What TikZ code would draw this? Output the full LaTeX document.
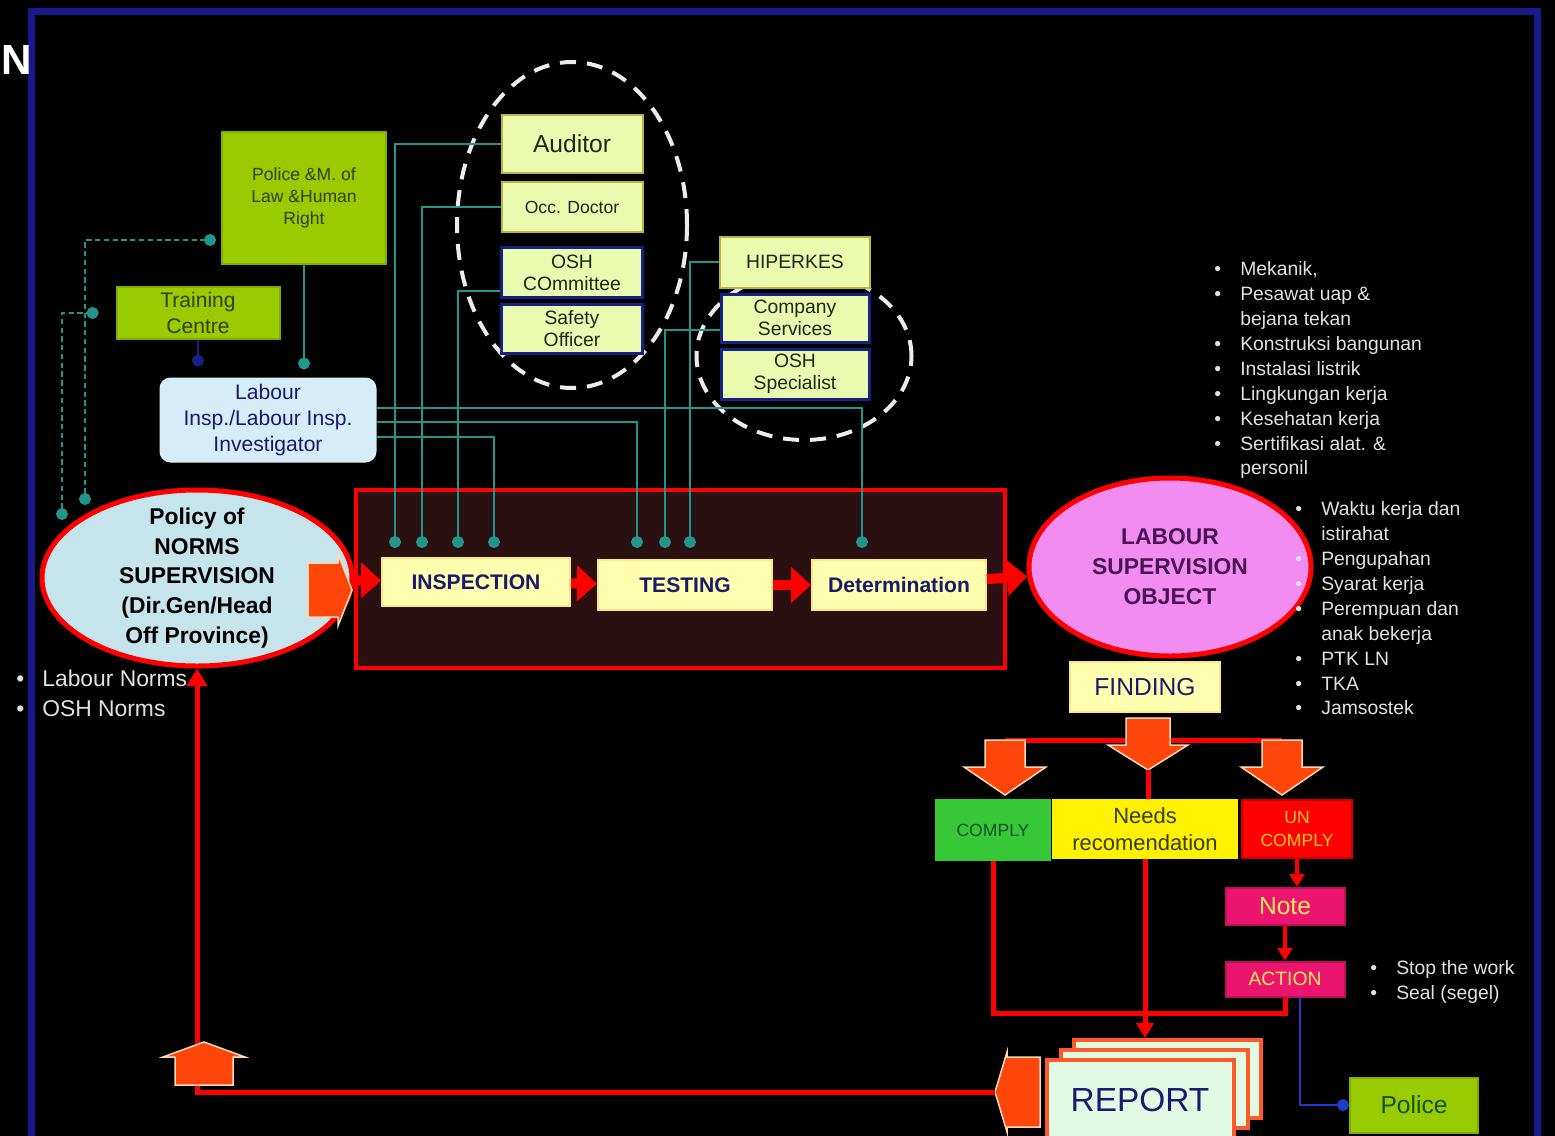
\documentclass[tikz,border=0pt]{standalone}
\usepackage{fontspec}
\setmainfont{Liberation Sans}
\usetikzlibrary{arrows,arrows.meta,positioning,shapes,calc}

\definecolor{framebl}{RGB}{25,25,140}
\definecolor{limefill}{RGB}{153,204,0}
\definecolor{olivetxt}{RGB}{55,60,10}
\definecolor{palelime}{RGB}{234,250,175}
\definecolor{navybord}{RGB}{20,35,130}
\definecolor{darktxt}{RGB}{30,40,25}
\definecolor{paleblue}{RGB}{214,236,246}
\definecolor{navytxt}{RGB}{25,25,110}
\definecolor{paleyel}{RGB}{255,255,175}
\definecolor{innerbrown}{RGB}{42,16,16}
\definecolor{policyblue}{RGB}{198,228,236}
\definecolor{pinkobj}{RGB}{242,140,240}
\definecolor{purpletxt}{RGB}{75,20,85}
\definecolor{tealc}{RGB}{35,150,140}
\definecolor{arroworange}{RGB}{255,70,10}
\definecolor{greencomply}{RGB}{55,200,55}
\definecolor{greentxt}{RGB}{20,80,40}
\definecolor{ambertxt}{RGB}{255,200,30}
\definecolor{notemag}{RGB}{235,20,110}
\definecolor{yeltxt}{RGB}{255,235,90}
\definecolor{reportfill}{RGB}{225,250,228}
\definecolor{reportbord}{RGB}{255,90,40}
\definecolor{blueln}{RGB}{30,60,200}
\definecolor{listgray}{RGB}{225,225,225}

\newcommand{\blt}{\makebox[5.2mm][l]{\textbullet}}
\newcommand{\cont}{\hspace*{5.2mm}}

\begin{document}
\begin{tikzpicture}[x=0.2mm,y=-0.2mm,>=stealth',
		box/.style={rectangle,draw,inner sep=1pt,align=center,line width=0.4mm},
		limebox/.style={box,fill=limefill,draw=limefill!85!black,text=olivetxt},
		palebox/.style={box,fill=palelime,draw=yellow!70!black,text=darktxt,minimum width=28.2mm},
		navybox/.style={palebox,draw=navybord,line width=0.6mm},
		procbox/.style={box,fill=paleyel,draw=paleyel!80!orange,text=navytxt,font=\bfseries\fontsize{12}{14}\selectfont,minimum height=10mm},
		endbox/.style={box,minimum height=11.6mm},
		redbox/.style={box,fill=notemag,draw=notemag!80!black,text=yeltxt,minimum width=23.8mm},
		repbox/.style={box,fill=reportfill,draw=reportbord,line width=0.8mm,minimum width=37.4mm,minimum height=15.6mm},
		link/.style={draw=tealc,line width=0.4mm,-*},
		dlink/.style={link,densely dashed,*-*},
		fatlink/.style={draw=red,line width=2mm,-{Triangle[width=7mm,length=4mm]}},
		redline/.style={draw=red,line width=1mm},
		thinred/.style={draw=red,line width=0.7mm,-{Triangle[width=3mm,length=2.5mm]}},
		groupring/.style={draw=white!85!gray,line width=0.8mm,dash pattern=on 3.2mm off 2.2mm},
		listtext/.style={text=listgray,align=left,anchor=north west,inner sep=0pt,font=\fontsize{11}{14.2}\selectfont},
		arrlen/.initial=45, arrhead/.initial=15, arrbody/.initial=22, arrwing/.initial=40,
		blockarrow/.pic={
			\pgfmathsetmacro{\arrL}{\pgfkeysvalueof{/tikz/arrlen}}
			\pgfmathsetmacro{\arrN}{\arrL-\pgfkeysvalueof{/tikz/arrhead}}
			\pgfmathsetmacro{\arrB}{\pgfkeysvalueof{/tikz/arrbody}}
			\pgfmathsetmacro{\arrW}{\pgfkeysvalueof{/tikz/arrwing}}
			\filldraw[fill=arroworange,draw=white!70!orange,line width=0.3mm]
				(0,-\arrB) -- (\arrN,-\arrB) -- (\arrN,-\arrW) -- (\arrL,0) -- (\arrN,\arrW) -- (\arrN,\arrB) -- (0,\arrB) -- cycle;
			\coordinate (-tip) at (\arrL,0);
			\coordinate (-tail) at (0,0);
		}]

		\useasboundingbox (0,0) rectangle (1555,1136);
		\fill[black] (0,0) rectangle (1555,1136);
		\draw[framebl,line width=1.4mm] (31,1136) -- (31,12) -- (1537,12) -- (1537,1136);
		\node[text=white,font=\bfseries\fontsize{24}{24}\selectfont,anchor=west,inner sep=0pt] (ncut) at (1,60) {N};

		\draw[groupring] (572,225) ellipse [x radius=23mm,y radius=32.6mm];
		\draw[groupring] (804,356) ellipse [x radius=21.5mm,y radius=16.8mm];

		\node[limebox,minimum width=32.8mm,minimum height=26.4mm,font=\fontsize{10}{12.5}\selectfont] (police) at (304,198) {Police \&M. of\\Law \&Human\\Right};
		\node[limebox,minimum width=32.6mm,minimum height=10.4mm,font=\fontsize{12}{14.5}\selectfont] (training) at (198,313) {Training\\Centre};
		\node[box,rounded corners=2mm,fill=paleblue,draw=paleblue,text=navytxt,minimum width=43mm,minimum height=16.6mm,font=\fontsize{12}{15}\selectfont] (labour) at (268,420) {Labour\\Insp./Labour Insp.\\Investigator};

		\node[palebox,minimum height=11.6mm,font=\fontsize{14}{16}\selectfont] (auditor) at (572,144) {Auditor};
		\node[palebox,minimum height=10mm,below=1.4mm of auditor,font=\fontsize{10}{12}\selectfont] (occdoc) {Occ. Doctor};
		\node[navybox,minimum height=10mm,below=2.6mm of occdoc,font=\fontsize{11}{12.5}\selectfont] (oshcom) {OSH\\COmmittee};
		\node[navybox,minimum height=9.8mm,below=0.8mm of oshcom,font=\fontsize{11}{12.5}\selectfont] (safety) {Safety\\Officer};

		\node[palebox,minimum width=30mm,minimum height=10.2mm,font=\fontsize{11}{13}\selectfont] (hiperkes) at (795,262) {HIPERKES};
		\node[navybox,minimum width=29.6mm,minimum height=9.6mm,below=0.8mm of hiperkes,font=\fontsize{11}{12.5}\selectfont] (compserv) {Company\\Services};
		\node[navybox,minimum width=29.6mm,minimum height=10mm,below=0.8mm of compserv,font=\fontsize{11}{12.5}\selectfont] (oshspec) {OSH\\Specialist};

		\node[draw=red,line width=0.9mm,fill=innerbrown,minimum width=129.8mm,minimum height=35.6mm] (procframe) at (680.5,579) {};
		\node[procbox,minimum width=37.6mm,minimum height=9.6mm] (inspection) at (476,582) {INSPECTION};
		\node[procbox,minimum width=34.8mm] (testing) at (685,585) {TESTING};
		\node[procbox,minimum width=34.8mm] (determ) at (899,585) {Determination};

		\node[ellipse,draw=red,line width=1mm,fill=policyblue,minimum width=62mm,minimum height=35.2mm] (policy) at (197,578) {};
		\node[align=center,text=black,font=\bfseries\fontsize{13}{17}\selectfont] (policytxt) at (policy) {Policy of\\NORMS\\SUPERVISION\\(Dir.Gen/Head\\Off Province)};
		\node[ellipse,draw=red,line width=1mm,fill=pinkobj,minimum width=56.4mm,minimum height=35.6mm] (object) at (1170,567) {};
		\node[align=center,text=purpletxt,font=\bfseries\fontsize{13}{17}\selectfont] (objecttxt) at (object) {LABOUR\\SUPERVISION\\OBJECT};

		\node[box,fill=paleyel,draw=paleyel!80!orange,text=navytxt,minimum width=30mm,minimum height=10mm,font=\fontsize{14}{16}\selectfont] (finding) at (1145,687) {FINDING};
		\node[endbox,fill=greencomply,draw=greencomply,text=greentxt,minimum width=22.8mm,minimum height=12mm,font=\fontsize{10}{12}\selectfont] (comply) at (993,830) {COMPLY};
		\node[endbox,fill=yellow,draw=yellow,text=olivetxt,minimum width=36.8mm,font=\fontsize{12.5}{15}\selectfont] (needs) at (1145,829) {Needs\\recomendation};
		\node[endbox,fill=red,draw=red!80!black,text=ambertxt,minimum width=22mm,font=\fontsize{10}{13}\selectfont] (uncomply) at (1297,829) {UN\\COMPLY};
		\node[redbox,minimum height=7.4mm,font=\fontsize{14}{16}\selectfont] (note) at (1285,906) {Note};
		\node[redbox,minimum height=7mm,font=\fontsize{11}{13}\selectfont] (action) at (1285,979) {ACTION};
		\node[limebox,minimum width=25.6mm,minimum height=11mm,text=greentxt,font=\fontsize{14}{16}\selectfont] (police2) at (1414,1105) {Police};

		\node[repbox] (report3) at (1167,1079) {};
		\node[repbox] (report2) at (1154,1089) {};
		\node[repbox,minimum height=16mm,text=navytxt,font=\fontsize{19}{21}\selectfont] (report) at (1140,1100) {REPORT};

		\node[listtext] (objlist1) at (1214,261) {\blt Mekanik,\\
			\blt Pesawat uap \&\\
			\cont bejana tekan\\
			\blt Konstruksi bangunan\\
			\blt Instalasi listrik\\
			\blt Lingkungan kerja\\
			\blt Kesehatan kerja\\
			\blt Sertifikasi alat. \&\\
			\cont personil};
		\node[listtext] (objlist2) at (1295,501) {\blt Waktu kerja dan\\
			\cont istirahat\\
			\blt Pengupahan\\
			\blt Syarat kerja\\
			\blt Perempuan dan\\
			\cont anak bekerja\\
			\blt PTK LN\\
			\blt TKA\\
			\blt Jamsostek};
		\node[listtext,font=\fontsize{13}{17}\selectfont] (normlist) at (16,670) {\blt Labour Norms\\
			\blt OSH Norms};
		\node[listtext] (actlist) at (1370,960) {\blt Stop the work\\
			\blt Seal (segel)};

		\coordinate (in1) at (395,548);
		\coordinate (in2) at (422,548);
		\coordinate (in3) at (458,548);
		\coordinate (in4) at (494,548);
		\coordinate (te1) at (637,548);
		\coordinate (te2) at (665,548);
		\coordinate (te3) at (690,548);
		\coordinate (de1) at (862,548);
		\coordinate (pol1) at (85,505);
		\coordinate (pol2) at (62,520);
		\coordinate (tailL) at (1005,740);
		\coordinate (tailR) at (1282,740);
		\coordinate (loopR) at (1285,1013);

		\draw[link] (auditor.west) -| (in1);
		\draw[link] (occdoc.west) -| (in2);
		\draw[link] ([yshift=-3.6mm]oshcom.west) -| (in3);
		\draw[link] ([yshift=-3.4mm]labour.east) -| (in4);
		\draw[link] ([yshift=-0.4mm]labour.east) -| (te1);
		\draw[link] ([yshift=2.4mm]labour.east) -| (de1);
		\draw[link] ([yshift=-2.4mm]compserv.west) -| (te2);
		\draw[link] (hiperkes.west) -| (te3);
		\draw[link,shorten >=1.6mm] (police.south) -- (police.south |- labour.north);
		\draw[link,draw=navybord,shorten >=2.2mm] (training.south) -- (training.south |- labour.north);
		\draw[dlink,shorten >=1mm] (pol1) |- ([yshift=-8.4mm]police.west);
		\draw[dlink,shorten >=3.4mm] (pol2) |- (training.west);

		\pic[arrlen=44,arrhead=14,arrbody=27,arrwing=36] (polarrow) at (308,590) {blockarrow};
		\draw[fatlink] (policy) -- (inspection);
		\draw[fatlink] (inspection) -- (testing);
		\draw[fatlink] (testing) -- (determ);
		\draw[fatlink] (determ) -- (object);

		\draw[redline] (tailL) -- (tailR);
		\pic[rotate=-90,arrlen=52,arrhead=25,arrbody=22,arrwing=40] (findmid) at (1148,718) {blockarrow};
		\pic[rotate=-90,arrlen=55,arrhead=28,arrbody=20,arrwing=41] (findleft) at (tailL) {blockarrow};
		\pic[rotate=-90,arrlen=55,arrhead=28,arrbody=20,arrwing=41] (findright) at (tailR) {blockarrow};
		\draw[redline] (findmid-tip) -- (findmid-tip |- needs.north);

		\draw[thinred] (uncomply.south) -- (uncomply.south |- note.north);
		\draw[thinred] (note.south) -- (note.south |- action.north);
		\draw[redline] (comply.south) |- (loopR) -- (action.south);
		\draw[redline,-{Triangle[width=3.4mm,length=3mm]}] (needs.south) -- (needs.south |- report3.north);
		\draw[draw=blueln,line width=0.4mm,-*] ([xshift=3mm]action.south) |- (police2.west);

		\pic[rotate=180,arrlen=45,arrhead=12,arrbody=35,arrwing=40] (backarrow) at (1040,1092) {blockarrow};
		\draw[redline,-{Triangle[width=4mm,length=3.5mm]}] (backarrow-tip) -| (policy.south);
		\pic[rotate=90,arrlen=43,arrhead=15,arrbody=29,arrwing=41] (uparrow) at (204,1085) {blockarrow};
\end{tikzpicture}
\end{document}
